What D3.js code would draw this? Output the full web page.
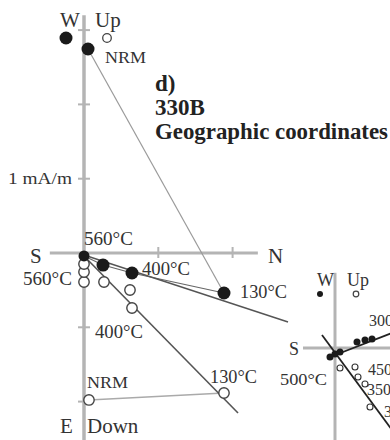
<!DOCTYPE html>
<html><head><meta charset="utf-8">
<script src="https://cdn.jsdelivr.net/npm/d3@7"></script>
<style>
html,body{margin:0;padding:0;background:#fff;}
svg{display:block;}
text{font-family:"Liberation Serif","DejaVu Serif",serif;}
</style></head>
<body>
<svg id="chart" width="390" height="440"></svg>
<script>
// ---------- DATA (mA/m; x = North, y = West (filled) / Up (open)) ----------
const titleLines = ["d)", "330B", "Geographic coordinates"];
const scaleLabel = "1 mA/m";
const axisTicksV = [-2, -1, 1, 2, 3];
const axisTicksH = [1, 2];
const axisNames = {top1: "W", top2: "Up", left: "S", right: "N", bottom1: "E", bottom2: "Down"};

// horizontal projection (filled)
const horizSteps = ["NRM", "130°C", "400°C", "", "560°C"];
const horizN = [0.054, 1.884, 0.646, 0.256, 0.0];
const horizW = [2.746, -0.538, -0.269, -0.162, -0.040];

// vertical projection (open)
const vertSteps = ["NRM", "130°C", "400°C", "", "", "560°C", "", ""];
const vertN = [0.067, 1.884, 0.646, 0.619, 0.269, 0.0, 0.0, 0.0];
const vertUp = [-1.978, -1.884, -0.740, -0.498, -0.390, -0.390, -0.256, -0.148];

// fitted directions (start/end)
const fitHorizN = [0.0, 2.746];
const fitHorizW = [-0.027, -0.929];
const fitVertN = [0.0, 2.073];
const fitVertUp = [-0.040, -2.153];

// second (clipped) diagram, arbitrary units
const s2Labels = {top1: "W", top2: "Up", left: "S"};
const s2HorizN = [-0.125, 0.0, 0.125, 0.55, 0.75, 0.925];
const s2HorizW = [-0.225, -0.15, -0.10, 0.15, 0.20, 0.225];
const s2VertN = [0.125, 0.5, 0.575, 0.75, 0.875];
const s2VertUp = [-0.5, -0.475, -0.725, -0.9, -1.475];
const s2FitHN = [-0.125, 1.425];
const s2FitHW = [-0.225, 0.375];
const s2FitVN = [-0.325, 1.425];
const s2FitVUp = [0.325, -2.05];
const s2StepLabels = ["300", "450", "350", "3", "500°C"];

// ---------- DRAWING ----------
const svg = d3.select("#chart");
const AX = "#b4b4b4", INK = "#1a1a1a", TXT = "#333";

// main scales: 1 mA/m = 74.3 px
const x = d3.scaleLinear().domain([0, 1]).range([84, 158.3]);
const y = d3.scaleLinear().domain([0, 1]).range([253, 178.7]);

// axes
svg.append("line").attr("x1", x(0)).attr("x2", x(0)).attr("y1", y(3.20)).attr("y2", y(-2.6))
  .attr("stroke", AX).attr("stroke-width", 3.5);
svg.append("line").attr("x1", x(-0.46)).attr("x2", x(2.34)).attr("y1", y(0)).attr("y2", y(0))
  .attr("stroke", AX).attr("stroke-width", 3);
svg.selectAll(".tv").data(axisTicksV).join("line")
  .attr("x1", x(0) - 6).attr("x2", x(0) + 6).attr("y1", d => y(d)).attr("y2", d => y(d))
  .attr("stroke", AX).attr("stroke-width", 2);
svg.selectAll(".th").data(axisTicksH).join("line")
  .attr("x1", d => x(d)).attr("x2", d => x(d)).attr("y1", y(0) - 6).attr("y2", y(0) + 5)
  .attr("stroke", AX).attr("stroke-width", 2);

function txt(s, px, py, size, opts = {}) {
  const t = svg.append("text").attr("x", px).attr("y", py).attr("font-size", size)
    .attr("fill", opts.fill || TXT).text(s);
  if (opts.bold) t.attr("font-weight", "bold");
  if (opts.anchor) t.attr("text-anchor", opts.anchor);
  if (opts.len) t.attr("textLength", opts.len).attr("lengthAdjust", "spacingAndGlyphs");
  return t;
}

// axis names
txt(axisNames.top1, 60, 27, 21);
txt(axisNames.top2, 95, 27, 21);
txt(axisNames.left, 30, 263, 21);
txt(axisNames.right, 268, 263, 21);
txt(axisNames.bottom1, 60, 433, 21);
txt(axisNames.bottom2, 87, 433, 21);
txt(scaleLabel, 8, 184, 17, {len: 64});

// title
txt(titleLines[0], 155, 91, 23, {bold: true, fill: "#222"});
txt(titleLines[1], 155, 115, 23, {bold: true, fill: "#222"});
txt(titleLines[2], 155, 139, 23, {bold: true, fill: "#222", len: 233});

// lines
const line = d3.line().x(d => x(d[0])).y(d => y(d[1]));
// connecting NRM -> 130 (light)
svg.append("path").attr("d", line([[horizN[0], horizW[0]], [horizN[1], horizW[1]]]))
  .attr("fill", "none").attr("stroke", "#9a9a9a").attr("stroke-width", 1.2);
svg.append("path").attr("d", line([[vertN[0], vertUp[0]], [vertN[1], vertUp[1]]]))
  .attr("fill", "none").attr("stroke", "#aaa").attr("stroke-width", 1.5);
// connecting 130 -> ... -> 560 (horizontal)
svg.append("path").attr("d", line(horizN.slice(1).map((n, i) => [n, horizW[i + 1]])))
  .attr("fill", "none").attr("stroke", "#666").attr("stroke-width", 1.2);
// fit lines
svg.append("path").attr("d", line(fitHorizN.map((n, i) => [n, fitHorizW[i]])))
  .attr("fill", "none").attr("stroke", "#555").attr("stroke-width", 1.4);
svg.append("path").attr("d", line(fitVertN.map((n, i) => [n, fitVertUp[i]])))
  .attr("fill", "none").attr("stroke", "#555").attr("stroke-width", 1.6);

// open points
svg.selectAll(".op").data(vertN.map((n, i) => [n, vertUp[i]])).join("circle")
  .attr("cx", d => x(d[0])).attr("cy", d => y(d[1])).attr("r", 5.2)
  .attr("fill", "#fff").attr("stroke", "#444").attr("stroke-width", 1.4);
// filled points
svg.selectAll(".fp").data(horizN.map((n, i) => [n, horizW[i]])).join("circle")
  .attr("cx", d => x(d[0])).attr("cy", d => y(d[1])).attr("r", (d, i) => i === 4 ? 5.5 : 6.5)
  .attr("fill", INK);

// legend markers next to W / Up
svg.append("circle").attr("cx", 66).attr("cy", 38).attr("r", 6.5).attr("fill", INK);
svg.append("circle").attr("cx", 107).attr("cy", 38).attr("r", 4.3).attr("fill", "#fff")
  .attr("stroke", "#444").attr("stroke-width", 1.3);

// step labels
txt(horizSteps[0], 105, 63, 16, {len: 41});
txt(horizSteps[1], 240, 298, 18, {len: 47});
txt(horizSteps[2], 142, 275, 18, {len: 48});
txt(horizSteps[4], 84, 245, 18, {len: 49});
txt(vertSteps[0], 87, 388, 16, {len: 41});
txt(vertSteps[1], 210, 383, 18, {len: 47});
txt(vertSteps[2], 95, 338, 18, {len: 48});
txt(vertSteps[5], 23, 285, 18, {len: 49});

// ---------- second diagram (clipped) ----------
const x2 = d3.scaleLinear().domain([0, 1]).range([335, 375]);
const y2 = d3.scaleLinear().domain([0, 1]).range([348, 308]);
svg.append("line").attr("x1", x2(0)).attr("x2", x2(0)).attr("y1", y2(1.88)).attr("y2", y2(-2.4))
  .attr("stroke", AX).attr("stroke-width", 3);
svg.append("line").attr("x1", x2(-0.8)).attr("x2", x2(1.5)).attr("y1", y2(0)).attr("y2", y2(0))
  .attr("stroke", AX).attr("stroke-width", 3);
txt(s2Labels.top1, 317, 286, 18);
txt(s2Labels.top2, 347, 286, 18);
txt(s2Labels.left, 289, 355, 18);
svg.append("circle").attr("cx", 320).attr("cy", 294).attr("r", 3).attr("fill", INK);
svg.append("circle").attr("cx", 356).attr("cy", 294).attr("r", 2.8).attr("fill", "#fff")
  .attr("stroke", "#444").attr("stroke-width", 1.2);
const line2 = d3.line().x(d => x2(d[0])).y(d => y2(d[1]));
svg.append("path").attr("d", line2(s2FitVN.map((n, i) => [n, s2FitVUp[i]])))
  .attr("fill", "none").attr("stroke", "#222").attr("stroke-width", 1.8);
svg.append("path").attr("d", line2(s2FitHN.map((n, i) => [n, s2FitHW[i]])))
  .attr("fill", "none").attr("stroke", "#222").attr("stroke-width", 1.8);
svg.selectAll(".op2").data(s2VertN.map((n, i) => [n, s2VertUp[i]])).join("circle")
  .attr("cx", d => x2(d[0])).attr("cy", d => y2(d[1])).attr("r", 3)
  .attr("fill", "#fff").attr("stroke", "#333").attr("stroke-width", 1.1);
svg.selectAll(".fp2").data(s2HorizN.map((n, i) => [n, s2HorizW[i]])).join("circle")
  .attr("cx", d => x2(d[0])).attr("cy", d => y2(d[1])).attr("r", 3.5).attr("fill", INK);
txt(s2StepLabels[0], 369, 326, 16);
txt(s2StepLabels[1], 368, 375, 16);
txt(s2StepLabels[2], 367, 395, 16);
txt(s2StepLabels[3], 384, 417, 16);
txt(s2StepLabels[4], 280, 385, 16, {len: 47});
</script>
</body></html>
